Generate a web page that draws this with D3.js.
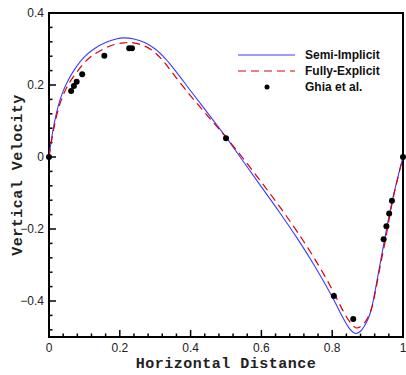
<!DOCTYPE html>
<html>
<head>
<meta charset="utf-8">
<style>
  body { margin: 0; background: #fff; }
  svg { display: block; }
</style>
</head>
<body>
<div class="chart"></div>
<script src="https://cdn.jsdelivr.net/npm/d3@7"></script>
<script>
// semi-implicit solution along the horizontal centreline
const semiX = [0, 0.01, 0.02, 0.03, 0.04, 0.05, 0.07, 0.1, 0.13, 0.16, 0.19, 0.21, 0.24, 0.27, 0.3, 0.33, 0.36, 0.4, 0.45, 0.5, 0.55, 0.6, 0.65, 0.7, 0.75, 0.8, 0.83, 0.85, 0.865, 0.88, 0.89, 0.9, 0.91, 0.92, 0.935, 0.95, 0.97, 0.985, 1];
const semiV = [0, 0.068, 0.118, 0.155, 0.183, 0.205, 0.240, 0.278, 0.302, 0.318, 0.328, 0.331, 0.328, 0.318, 0.300, 0.272, 0.236, 0.184, 0.120, 0.055, -0.014, -0.083, -0.152, -0.224, -0.302, -0.388, -0.446, -0.478, -0.490, -0.484, -0.471, -0.453, -0.425, -0.378, -0.298, -0.218, -0.120, -0.058, 0];

// fully-explicit solution
const explX = [0, 0.01, 0.02, 0.03, 0.04, 0.05, 0.06, 0.08, 0.1, 0.12, 0.15, 0.18, 0.21, 0.23, 0.26, 0.29, 0.32, 0.35, 0.4, 0.45, 0.5, 0.55, 0.6, 0.65, 0.7, 0.75, 0.8, 0.83, 0.85, 0.869, 0.885, 0.9, 0.912, 0.922, 0.935, 0.95, 0.97, 0.985, 1];
const explV = [0, 0.060, 0.108, 0.145, 0.172, 0.193, 0.210, 0.238, 0.262, 0.280, 0.298, 0.311, 0.317, 0.318, 0.312, 0.297, 0.270, 0.232, 0.170, 0.112, 0.055, -0.006, -0.070, -0.136, -0.206, -0.282, -0.368, -0.426, -0.458, -0.475, -0.467, -0.447, -0.418, -0.374, -0.306, -0.232, -0.125, -0.060, 0];

// Ghia et al. reference points
const ghiaX = [1.0, 0.9688, 0.9609, 0.9531, 0.9453, 0.8594, 0.8047, 0.5, 0.2344, 0.2266, 0.1563, 0.0938, 0.0781, 0.0703, 0.0625, 0.0];
const ghiaV = [0, -0.12146, -0.15663, -0.19254, -0.22847, -0.44993, -0.38598, 0.05186, 0.30174, 0.30203, 0.28124, 0.22965, 0.20920, 0.19713, 0.18360, 0];

const xTicks = [0, 0.2, 0.4, 0.6, 0.8, 1];
const yTicks = [-0.4, -0.2, 0, 0.2, 0.4];
const seriesNames = ["Semi-Implicit", "Fully-Explicit", "Ghia et al."];

const width = 406, height = 375;
const x = d3.scaleLinear().domain([0, 1]).range([49, 403]);
const y = d3.scaleLinear().domain([-0.5, 0.4]).range([337, 13]);

const svg = d3.select(".chart").append("svg")
    .attr("width", width).attr("height", height);

// minor ticks every 0.04
const xMinor = d3.range(0, 1.0001, 0.04).map(d => +d.toFixed(2));
const yMinor = d3.range(-0.48, 0.4001, 0.04).map(d => +d.toFixed(2));
const isMajor = (list, d) => list.some(t => Math.abs(t - d) < 1e-6);

svg.append("g").selectAll("line").data(xMinor).enter().append("line")
    .attr("x1", d => x(d)).attr("x2", d => x(d))
    .attr("y1", y(-0.5)).attr("y2", d => y(-0.5) - (isMajor(xTicks, d) ? 7 : 3.5))
    .attr("stroke", "#000").attr("stroke-width", 1.5);

svg.append("g").selectAll("line").data(yMinor).enter().append("line")
    .attr("y1", d => y(d)).attr("y2", d => y(d))
    .attr("x1", x(0)).attr("x2", d => x(0) + (isMajor(yTicks, d) ? 7 : 3.5))
    .attr("stroke", "#000").attr("stroke-width", 1.5);

// frame
svg.append("rect")
    .attr("x", x(0)).attr("y", y(0.4))
    .attr("width", x(1) - x(0)).attr("height", y(-0.5) - y(0.4))
    .attr("fill", "none").attr("stroke", "#000").attr("stroke-width", 2);

// tick labels
svg.append("g").selectAll("text").data(xTicks).enter().append("text")
    .attr("x", d => x(d)).attr("y", 352)
    .attr("text-anchor", "middle")
    .attr("font-family", "Liberation Sans, Arial, sans-serif").attr("font-size", 12)
    .attr("fill", "#222")
    .text(d => d3.format("")(d));

svg.append("g").selectAll("text").data(yTicks).enter().append("text")
    .attr("x", 44).attr("y", d => y(d) + 4)
    .attr("text-anchor", "end")
    .attr("font-family", "Liberation Sans, Arial, sans-serif").attr("font-size", 12)
    .attr("fill", "#222")
    .text(d => d3.format("")(d));

// axis titles
svg.append("text")
    .attr("x", (x(0) + x(1)) / 2).attr("y", 368)
    .attr("text-anchor", "middle")
    .attr("font-family", "Liberation Mono, Courier New, monospace").attr("font-weight", "bold").attr("font-size", 15)
    .attr("letter-spacing", 0.5)
    .attr("fill", "#222")
    .text("Horizontal Distance");

svg.append("text")
    .attr("transform", `translate(22,${(y(0.4) + y(-0.5)) / 2}) rotate(-90)`)
    .attr("text-anchor", "middle")
    .attr("font-family", "Liberation Mono, Courier New, monospace").attr("font-weight", "bold").attr("font-size", 15)
    .attr("letter-spacing", 0.5)
    .attr("fill", "#222")
    .text("Vertical Velocity");

// curves
const line = d3.line().x(d => x(d[0])).y(d => y(d[1])).curve(d3.curveCatmullRom.alpha(0.5));

svg.append("path")
    .datum(semiX.map((d, i) => [d, semiV[i]]))
    .attr("d", line)
    .attr("fill", "none").attr("stroke", "#3b3bff").attr("stroke-width", 1.1);

svg.append("path")
    .datum(explX.map((d, i) => [d, explV[i]]))
    .attr("d", line)
    .attr("fill", "none").attr("stroke", "#dd0000").attr("stroke-width", 1.2)
    .attr("stroke-dasharray", "8,5");

svg.append("g").selectAll("circle")
    .data(ghiaX.map((d, i) => [d, ghiaV[i]]))
    .enter().append("circle")
    .attr("cx", d => x(d[0])).attr("cy", d => y(d[1]))
    .attr("r", 3).attr("fill", "#000");

// legend
const lg = svg.append("g");
lg.append("line").attr("x1", 238).attr("x2", 295).attr("y1", 55).attr("y2", 55)
    .attr("stroke", "#3b3bff").attr("stroke-width", 1.1);
lg.append("line").attr("x1", 238).attr("x2", 295).attr("y1", 71).attr("y2", 71)
    .attr("stroke", "#dd0000").attr("stroke-width", 1.2).attr("stroke-dasharray", "8,5");
lg.append("circle").attr("cx", 267).attr("cy", 87).attr("r", 2.5).attr("fill", "#000");
lg.selectAll("text").data(seriesNames).enter().append("text")
    .attr("x", 305).attr("y", (d, i) => 59 + i * 16)
    .attr("font-family", "Liberation Sans, Arial, sans-serif").attr("font-weight", "bold").attr("font-size", 12)
    .attr("fill", "#111")
    .text(d => d);
</script>
</body>
</html>
